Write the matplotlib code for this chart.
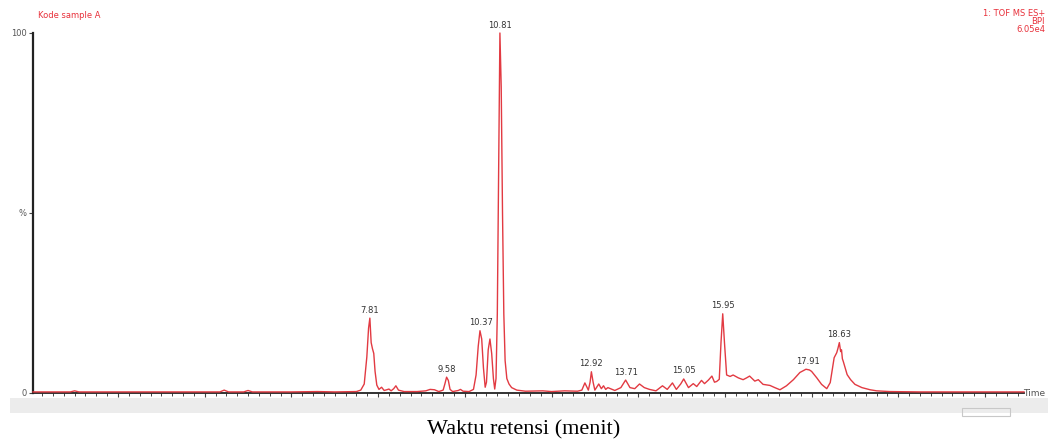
import numpy as np
import matplotlib
matplotlib.use("Agg")
import matplotlib.pyplot as plt
from matplotlib.patches import Rectangle
from matplotlib.ticker import MultipleLocator, FixedLocator

# ---- data ----
time_min = [0.04, 0.5, 0.9, 1.0, 1.1, 2.0, 3.0, 4.0, 4.35, 4.45, 4.55, 4.9, 5.0, 5.1,
            6.0, 6.6, 7.0, 7.5, 7.6,
            7.68, 7.74, 7.78, 7.81, 7.84, 7.87, 7.90, 7.93, 7.97, 8.02, 8.08, 8.14, 8.2,
            8.25, 8.3, 8.36, 8.41, 8.47, 8.6, 8.9, 9.1, 9.2, 9.3, 9.4, 9.5, 9.54, 9.58,
            9.62, 9.66, 9.72, 9.85, 9.9, 9.96, 10.1, 10.2, 10.26, 10.31, 10.35, 10.39,
            10.43, 10.47, 10.50, 10.54, 10.58, 10.62, 10.66, 10.69, 10.72, 10.75, 10.78,
            10.81, 10.84, 10.87, 10.90, 10.93, 10.97, 11.02, 11.08, 11.2, 11.4, 11.8,
            12.0, 12.3, 12.6, 12.7, 12.77, 12.85, 12.89, 12.92, 12.96, 13.0, 13.09,
            13.15, 13.2, 13.25, 13.3, 13.46, 13.6, 13.71, 13.81, 13.92, 14.03, 14.14,
            14.26, 14.41, 14.56, 14.67, 14.79, 14.88, 14.98, 15.05, 15.16, 15.27, 15.35,
            15.46, 15.53, 15.62, 15.70, 15.76, 15.81, 15.87, 15.91, 15.95, 15.99, 16.04,
            16.12, 16.19, 16.31, 16.42, 16.5, 16.57, 16.69, 16.77, 16.88, 17.04, 17.15,
            17.27, 17.42, 17.58, 17.73, 17.87, 17.95, 18.0, 18.12, 18.23, 18.35, 18.43,
            18.52, 18.58, 18.61, 18.64, 18.67, 18.69, 18.71, 18.73, 18.82, 18.9, 19.0,
            19.16, 19.35, 19.5, 19.8, 20.5, 21.5, 22.9]
intensity_pct = [0.3, 0.3, 0.3, 0.6, 0.3, 0.3, 0.3, 0.3, 0.3, 0.8, 0.3, 0.3, 0.7, 0.3,
                 0.3, 0.4, 0.3, 0.4, 0.8,
                 2.5, 10, 18, 20.8, 14, 12.3, 11, 6, 2.2, 1.0, 1.6, 0.7, 0.9,
                 1.1, 0.6, 1.2, 2.0, 0.8, 0.4, 0.4, 0.6, 1.0, 0.9, 0.4, 0.8, 2.5, 4.4,
                 3.5, 1.0, 0.4, 0.7, 1.0, 0.5, 0.4, 1.0, 5, 13, 17.3, 15,
                 7, 1.6, 3, 12, 15, 11, 4, 1.1, 4, 22, 60,
                 100, 85, 50, 22, 9, 4, 2.5, 1.5, 0.8, 0.5, 0.6,
                 0.4, 0.6, 0.5, 0.8, 2.8, 0.8, 3, 5.9, 3, 0.8, 2.5,
                 1.2, 2.0, 1.0, 1.5, 0.7, 1.5, 3.6, 1.5, 1.2, 2.5, 1.5,
                 1.0, 0.6, 2.0, 1.0, 2.8, 1.0, 2.5, 3.9, 1.5, 2.6, 1.8,
                 3.5, 2.6, 3.6, 4.7, 3.0, 3.2, 3.8, 14, 22, 14, 5,
                 4.6, 5.0, 4.2, 3.7, 4.2, 4.7, 3.3, 3.7, 2.4, 2.1, 1.5,
                 0.9, 2.0, 3.7, 5.7, 6.6, 6.4, 6.0, 4.2, 2.4, 1.2, 2.9,
                 9.8, 11.2, 12.5, 14, 11.5, 12, 9.5, 8.8, 5.1, 3.7, 2.4,
                 1.5, 0.9, 0.6, 0.4, 0.3, 0.3, 0.3]

peak_times = [7.81, 9.58, 10.37, 10.81, 12.92, 13.71, 15.05, 15.95, 17.91, 18.63]
peak_heights = [20.8, 4.4, 17.3, 100, 5.9, 3.6, 3.9, 22, 6.6, 14]
peak_labels = ["7.81", "9.58", "10.37", "10.81", "12.92", "13.71", "15.05", "15.95",
               "17.91", "18.63"]

x_major = [2, 4, 6, 8, 10, 12, 14, 16, 18, 20, 22]
y_ticks = [0, 50, 100]
y_tick_labels = ["0", "%", "100"]

# ---- figure ----
W, H = 1048, 445
fig = plt.figure(figsize=(W / 100, H / 100), dpi=100)
fig.patch.set_facecolor("white")

def fx(px):
    return px / W

def fy(py):
    return 1 - py / H

# gray band under the axis
fig.patches.append(Rectangle((fx(10), fy(413)), fx(1048 - 10), 15 / H,
                             transform=fig.transFigure, facecolor="#ececec",
                             edgecolor="none", zorder=0))
fig.patches.append(Rectangle((fx(962), fy(416)), fx(48), 8 / H,
                             transform=fig.transFigure, facecolor="none",
                             edgecolor="#c8c8c8", lw=0.8, zorder=0))

# x pixel = 31.3 + 43.35 * t ; axis spans pixels 33 .. 1024
ax = fig.add_axes([fx(33), fy(393), fx(1024 - 33), (393 - 33) / H])
ax.set_facecolor("none")
ax.plot(time_min, intensity_pct, color="#e23a42", lw=1.0, solid_joinstyle="round",
        clip_on=False, zorder=3)

ax.set_xlim((33 - 31.3) / 43.35, (1024 - 31.3) / 43.35)
ax.set_ylim(0, 100)
for s in ["top", "right"]:
    ax.spines[s].set_visible(False)
ax.spines["left"].set_linewidth(1.6)
ax.spines["bottom"].set_linewidth(1.3)
ax.spines["left"].set_color("#222222")
ax.spines["bottom"].set_color("#222222")

ax.xaxis.set_major_locator(FixedLocator(x_major))
ax.xaxis.set_minor_locator(MultipleLocator(0.25))
ax.set_xticklabels(["%.2f" % v for v in x_major])
ax.tick_params(axis="x", which="major", length=3, width=0.8, colors="#444444",
               labelsize=6.5, pad=5, labelcolor="#555555")
ax.tick_params(axis="x", which="minor", length=2.5, width=0.7, colors="#444444")

ax.set_yticks(y_ticks)
ax.set_yticklabels(y_tick_labels)
ax.tick_params(axis="y", length=3, width=0.8, colors="#444444", labelsize=6,
               pad=1.5, labelcolor="#555555")

for t, h, lab in zip(peak_times, peak_heights, peak_labels):
    ax.annotate(lab, xy=(t, h), xytext=(0, 2.5), textcoords="offset points",
                ha="center", va="bottom", fontsize=6, color="#333333",
                annotation_clip=False)

# header texts
fig.text(fx(38), fy(15), "Kode sample A", fontsize=6, color="#e8303a",
         ha="left", va="center")
fig.text(fx(1045), fy(13), "1: TOF MS ES+", fontsize=6, color="#e8303a",
         ha="right", va="center")
fig.text(fx(1045), fy(21), "BPI", fontsize=6, color="#e8303a", ha="right", va="center")
fig.text(fx(1045), fy(29), "6.05e4", fontsize=6, color="#e8303a",
         ha="right", va="center")
fig.text(fx(1045), fy(393), "Time", fontsize=6.5, color="#555555",
         ha="right", va="center")

fig.text(0.5, fy(430), "Waktu retensi (menit)", fontsize=16,
         family=["Liberation Serif", "DejaVu Serif"], ha="center", va="center",
         color="black")

fig.savefig("out.png", dpi=100)
